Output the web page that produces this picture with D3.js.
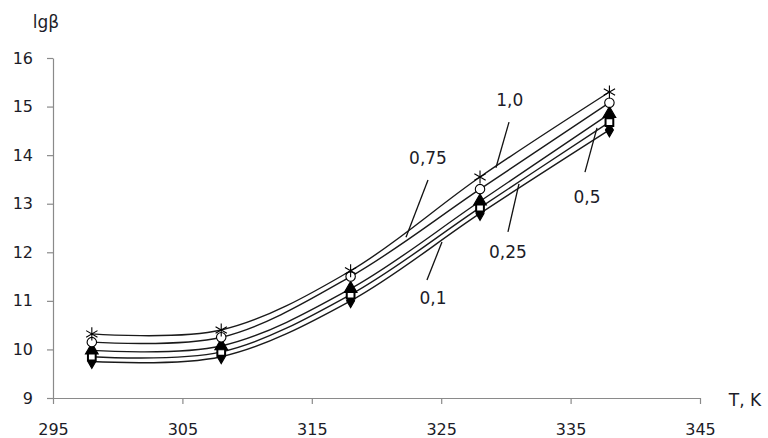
<!DOCTYPE html>
<html lang="en">
  <head>
    <meta charset="utf-8">
    <title>lg beta vs T</title>
    <style>
      body { margin: 0; padding: 0; background: #fff; }
      #chart { width: 768px; height: 438px; }
      text { font-family: "DejaVu Sans", Verdana, sans-serif; fill: #1c1c28; }
    </style>
  </head>
  <body>
    <div id="chart"></div>
    <script src="https://d3js.org/d3.v7.min.js"></script>
    <script>

    // data
    var temps = [298, 308, 318, 328, 338];
    var seriesNames = ['0,1', '0,25', '0,5', '0,75', '1,0'];
    var s01  = [9.75, 9.85, 11.0, 12.8, 14.52];
    var s025 = [9.85, 9.95, 11.13, 12.92, 14.68];
    var s05  = [9.98, 10.07, 11.25, 13.05, 14.85];
    var s075 = [10.15, 10.25, 11.5, 13.3, 15.08];
    var s10  = [10.32, 10.4, 11.62, 13.55, 15.3];
    var xTicks = [295, 305, 315, 325, 335, 345];
    var yTicks = [9, 10, 11, 12, 13, 14, 15, 16];

    // callout labels, in data units: label point, leader start, leader end
    var callouts = [
      { name: '1,0',  at: [330.3, 15.14], from: [330.24, 14.68], to: [329.23, 13.74] },
      { name: '0,75', at: [323.98, 13.94], from: [323.98, 13.49], to: [322.28, 12.31] },
      { name: '0,25', at: [330.16, 12.01], from: [330.16, 12.42], to: [331.01, 13.41] },
      { name: '0,1',  at: [324.37, 11.06], from: [323.9, 11.43], to: [325.06, 12.21] },
      { name: '0,5',  at: [336.27, 13.14], from: [336.11, 13.65], to: [337.04, 14.56] }
    ];

    var allSeries = [s01, s025, s05, s075, s10];
    var shapes = ['diamond', 'square', 'triangle', 'circle', 'star'];

    var width = 768, height = 438;
    var svg = d3.select('#chart').append('svg')
      .attr('width', width)
      .attr('height', height);

    var x = d3.scaleLinear().domain([295, 345]).range([53, 700]);
    var y = d3.scaleLinear().domain([9, 16]).range([398, 58]);

    var axisColor = '#8a8a8a';

    var yAxis = svg.append('g')
      .attr('transform', 'translate(' + x(295) + ',0)')
      .call(d3.axisLeft(y).tickValues(yTicks).tickSize(6).tickSizeOuter(0).tickPadding(14)
        .tickFormat(d3.format('d')));
    var xAxis = svg.append('g')
      .attr('transform', 'translate(0,' + y(9) + ')')
      .call(d3.axisBottom(x).tickValues(xTicks).tickSize(6).tickSizeOuter(0).tickPadding(20)
        .tickFormat(d3.format('d')));

    [xAxis, yAxis].forEach(function(g) {
      g.select('.domain').attr('stroke', axisColor).attr('stroke-width', 1.2);
      g.selectAll('.tick line').attr('stroke', axisColor).attr('stroke-width', 1.2);
      g.selectAll('.tick text')
        .style('font-size', '16px')
        .style('font-family', '"DejaVu Sans", Verdana, sans-serif')
        .attr('fill', '#1c1c28');
    });

    svg.append('text')
      .attr('x', 46).attr('y', 28)
      .attr('text-anchor', 'middle')
      .style('font-size', '17px')
      .text('lgβ');
    svg.append('text')
      .attr('x', 745).attr('y', 406)
      .attr('text-anchor', 'middle')
      .style('font-size', '17px')
      .text('T, K');

    var line = d3.line()
      .x(function(d, i) { return x(temps[i]); })
      .y(function(d) { return y(d); })
      .curve(d3.curveCatmullRom.alpha(0.5));

    svg.append('g').selectAll('path')
      .data(allSeries)
      .enter().append('path')
      .attr('d', line)
      .attr('fill', 'none')
      .attr('stroke', '#1a1a1a')
      .attr('stroke-width', 1.4);

    // markers
    var symbolFor = {
      diamond: d3.symbol().type(d3.symbolDiamond).size(55),
      square: d3.symbol().type(d3.symbolSquare).size(60),
      triangle: d3.symbol().type(d3.symbolTriangle).size(70),
      circle: d3.symbol().type(d3.symbolCircle).size(70),
      star: d3.symbol().type(d3.symbolAsterisk).size(120)
    };

    allSeries.forEach(function(vals, k) {
      var shape = shapes[k];
      var g = svg.append('g');
      g.selectAll('path')
        .data(vals)
        .enter().append('path')
        .attr('transform', function(d, i) {
          return 'translate(' + x(temps[i]) + ',' + y(d) + ')';
        })
        .attr('d', symbolFor[shape]())
        .attr('fill', shape === 'diamond' || shape === 'triangle' ? '#000' :
              (shape === 'star' ? 'none' : '#fff'))
        .attr('stroke', '#000')
        .attr('stroke-width', shape === 'square' ? 2 : 1.1);
    });

    // callouts
    svg.append('g').selectAll('line')
      .data(callouts)
      .enter().append('line')
      .attr('x1', function(d) { return x(d.from[0]); })
      .attr('y1', function(d) { return y(d.from[1]); })
      .attr('x2', function(d) { return x(d.to[0]); })
      .attr('y2', function(d) { return y(d.to[1]); })
      .attr('stroke', '#111')
      .attr('stroke-width', 1.3);

    svg.append('g').selectAll('text')
      .data(callouts)
      .enter().append('text')
      .attr('x', function(d) { return x(d.at[0]); })
      .attr('y', function(d) { return y(d.at[1]); })
      .attr('dy', '0.35em')
      .attr('text-anchor', 'middle')
      .style('font-size', '17px')
      .text(function(d) { return d.name; });

    </script>
  </body>
</html>
